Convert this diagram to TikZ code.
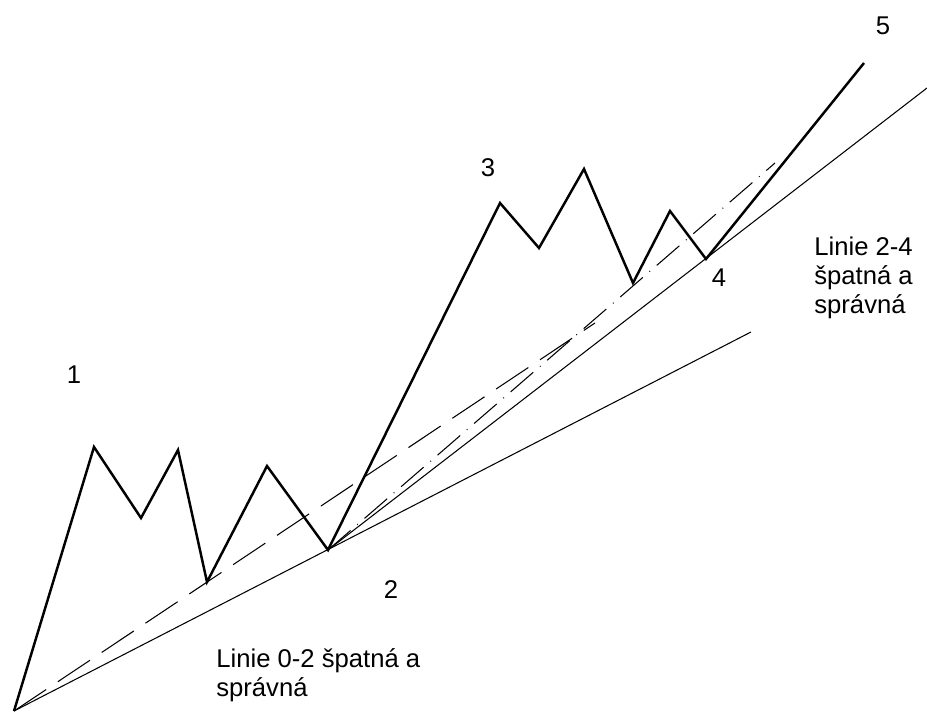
\documentclass[tikz,border=0pt]{standalone}
\usepackage{fontspec}
\setmainfont{Liberation Sans}

\begin{document}
\begin{tikzpicture}[x=0.02cm,y=-0.02cm,font=\fontsize{14.6}{16.5}\selectfont,
    wave/.style={line width=1.4pt,line join=miter},
    trend/.style={line width=0.6pt},
    falsetrend/.style={line width=0.6pt,dash pattern=on 22pt off 8pt},
    falsetrendb/.style={line width=0.6pt,dash pattern=on 17pt off 5pt on 0.5pt off 5pt},
    note/.style={anchor=north west,align=left,inner sep=0pt}]
    \useasboundingbox (0,0) rectangle (927,713);
    % turning points of the wave (pixel grid, y going down)
    \foreach \n/\x/\y in {p0/14/711,a/94/447,b/141/518,c/178/450,d/207/582,%
      e/267/466,p2/328/550,p3/500/203,f/539/248,g/584/169,h/633/283,%
      i/670/211,p4/706/259,p5/864/63}
      \coordinate (\n) at (\x,\y);
    % free ends of the trend lines
    \coordinate (e02) at (751,332);
    \coordinate (w02) at (595,323);
    \coordinate (e24) at (927,88);
    \coordinate (w24) at (775,163);
    % trend lines: dashed = wrong, solid = right
    \draw[trend] (p0) -- (e02);
    \draw[falsetrend] (p0) -- (w02);
    \draw[trend] (p2) -- (e24);
    \draw[falsetrendb] (p2) -- (w24);
    \draw[wave] (p0) -- (a) -- (b) -- (c) -- (d) -- (e) -- (p2) -- (p3)
      -- (f) -- (g) -- (h) -- (i) -- (p4) -- (p5);
    % wave numbers
    \foreach \n/\x/\y/\L in {n1/74/375/1,n2/391/590/2,n3/488/168/3,%
      n4/719/278/4,n5/883/26/5}
      \node (\n) at (\x,\y) {\L};
    \node[note] (t02) at (216,648) {Linie 0-2 špatná a\\správná};
    \node[note] (t24) at (814,237) {Linie 2-4\\špatná a\\správná};
\end{tikzpicture}
\end{document}
